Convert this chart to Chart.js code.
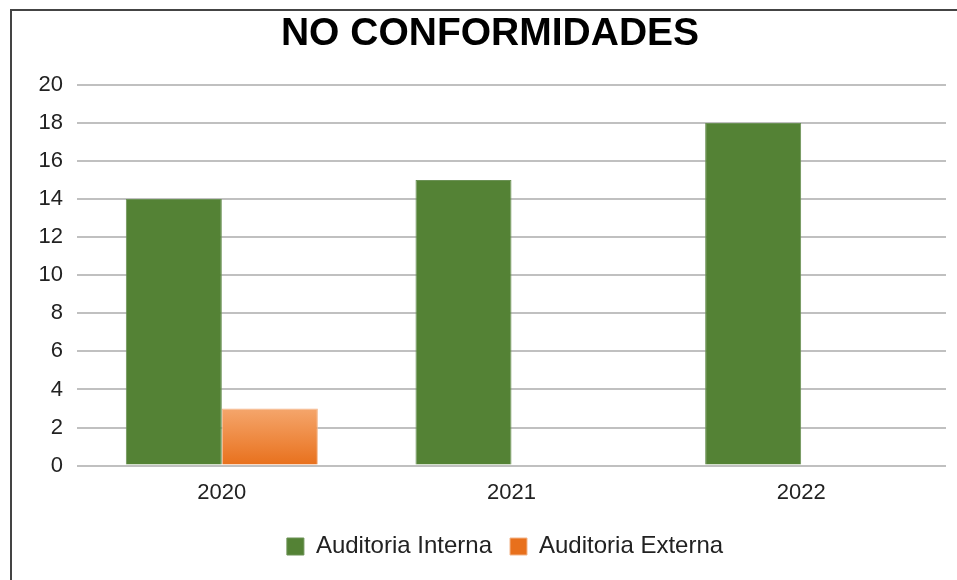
<!DOCTYPE html>
<html>
<head>
<meta charset="utf-8">
<title>No conformidades</title>
<script src="https://cdn.jsdelivr.net/npm/chart.js@4/dist/chart.umd.min.js"></script>
<style>
  html, body { margin: 0; padding: 0; background: #fff; }
  #wrap  { position: relative; width: 957px; height: 580px; overflow: hidden; }
  #frame { position: absolute; left: 10px; top: 9px; right: 0; bottom: 0;
           border-top: 2px solid #444; border-left: 2px solid #444; }
  #chart { position: absolute; left: 0; top: 0; }
</style>
</head>
<body>
<div id="wrap">
  <div id="frame"></div>
  <canvas id="chart" width="957" height="580"></canvas>
</div>
<script>
// ── Data ──────────────────────────────────────────────────────────────────────
const TITLE    = "NO CONFORMIDADES";
const YEARS    = ["2020", "2021", "2022"];
const INTERNA  = [14, 15, 18];   // Auditoria Interna
const EXTERNA  = [3, 0, 0];      // Auditoria Externa
const Y_MIN    = 0;
const Y_MAX    = 20;
const Y_STEP   = 2;

// ── Style ─────────────────────────────────────────────────────────────────────
const FONT     = "'Liberation Sans', Arial, sans-serif";
const GREEN    = "#548235";
const ORANGE_T = "#f5a66c";
const ORANGE_B = "#e8701c";

// orange bars get a vertical gradient over their own height
function orangeFill(ctx) {
  const chart = ctx.chart;
  if (!chart.chartArea || ctx.raw == null) return ORANGE_B;
  const y   = chart.scales.y;
  const top = y.getPixelForValue(ctx.raw);
  const bot = y.getPixelForValue(0);
  if (bot - top < 1) return ORANGE_B;
  const g = chart.ctx.createLinearGradient(0, top, 0, bot);
  g.addColorStop(0, ORANGE_T);
  g.addColorStop(1, ORANGE_B);
  return g;
}

// title and legend in the original sit a bit right of the canvas centre
const nudge = {
  id: "nudge",
  afterLayout(chart) {
    const shift = (box, dx) => { box.left += dx; box.right += dx; };
    shift(chart.titleBlock, 7);
    shift(chart.legend, 22);
  },
};

// ── Chart ─────────────────────────────────────────────────────────────────────
new Chart(document.getElementById("chart"), {
  type: "bar",
  data: {
    labels: YEARS,
    datasets: [
      { label: "Auditoria Interna", data: INTERNA,
        backgroundColor: GREEN, borderColor: "#6b9155", borderWidth: 1 },
      { label: "Auditoria Externa", data: EXTERNA,
        backgroundColor: orangeFill, borderColor: "#f3b58a", borderWidth: 1 },
    ],
  },
  plugins: [nudge],
  options: {
    responsive: false,
    devicePixelRatio: 1,
    animation: false,
    categoryPercentage: 0.663,
    barPercentage: 1,
    layout: { padding: { left: 20, right: 11, top: 0, bottom: 11.5 } },
    plugins: {
      title: {
        display: true, text: TITLE, color: "#000",
        font: { family: FONT, size: 39, weight: "bold" },
        padding: { top: 11, bottom: 27 },
      },
      legend: {
        position: "bottom",
        labels: {
          color: "#222", boxWidth: 17, boxHeight: 17, padding: 18,
          font: { family: FONT, size: 24 },
        },
      },
      tooltip: { enabled: false },
    },
    scales: {
      x: {
        grid: { display: false, drawTicks: false },
        border: { display: false },
        ticks: { color: "#222", padding: 14, font: { family: FONT, size: 22 } },
        afterFit: (s) => { s.height -= 3.5; },
      },
      y: {
        min: Y_MIN, max: Y_MAX,
        grid: { color: "#c0c0c0", lineWidth: 2, drawTicks: false },
        border: { display: false },
        ticks: { stepSize: Y_STEP, color: "#222", padding: 14, font: { family: FONT, size: 22 } },
        afterFit: (s) => { s.width = 57; },
      },
    },
  },
});
</script>
</body>
</html>
